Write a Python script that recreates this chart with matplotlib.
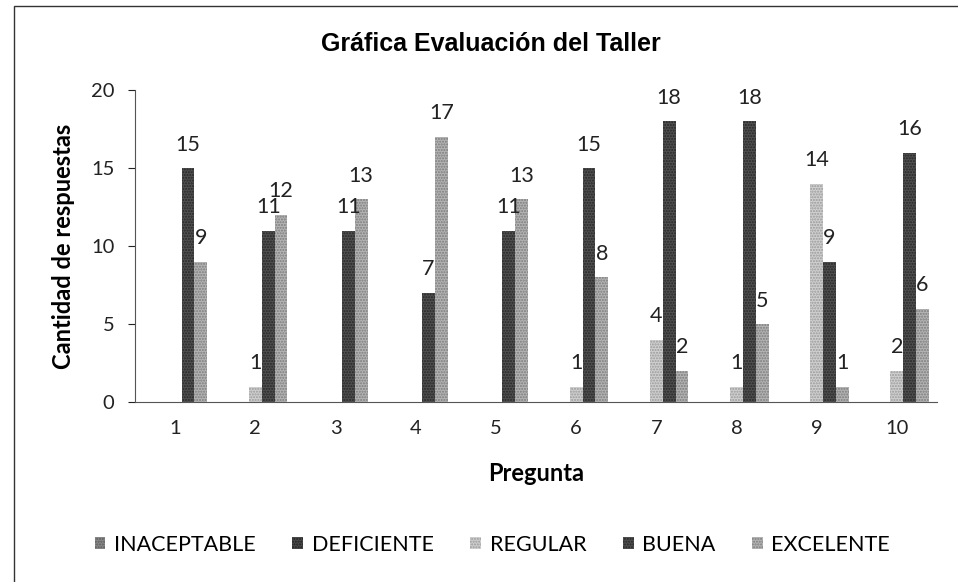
import numpy as np
import matplotlib.pyplot as plt
from matplotlib.patches import Rectangle

plt.rcParams['font.family'] = ['Lato', 'DejaVu Sans']

preguntas = ['1', '2', '3', '4', '5', '6', '7', '8', '9', '10']
series = ['INACEPTABLE', 'DEFICIENTE', 'REGULAR', 'BUENA', 'EXCELENTE']

nan = np.nan
inaceptable = [nan] * 10
deficiente = [nan] * 10
regular = [nan, 1, nan, nan, nan, 1, 4, 1, 14, 2]
buena = [15, 11, 11, 7, 11, 15, 18, 18, 9, 16]
excelente = [9, 12, 13, 17, 13, 8, 2, 5, 1, 6]

valores = [inaceptable, deficiente, regular, buena, excelente]
colores = ['#8a8a8a', '#4a4a4a', '#cfcfcf', '#505050', '#b4b4b4']
tramas = ['#5a5a5a', '#222222', '#9a9a9a', '#262626', '#7c7c7c']

fig = plt.figure(figsize=(9.58, 5.82), dpi=100)
ax = fig.add_axes([0.141, 0.309, 0.837, 0.536])

# marco del grafico
fig.patches.append(Rectangle((14 / 958, -0.05), 1.1, 1 - 6 / 582 + 0.05,
                             transform=fig.transFigure, fill=False,
                             edgecolor='#333333', linewidth=1.0))

x = np.arange(1, len(preguntas) + 1)
ancho = 0.16
for i, (nombre, vals) in enumerate(zip(series, valores)):
    pos = x + (i - 2) * ancho
    ax.bar(pos, vals, width=ancho, color=colores[i], edgecolor=tramas[i],
           linewidth=0, hatch='......', label=nombre)
    for p, v in zip(pos, vals):
        if not np.isnan(v):
            ax.annotate(f'{int(v)}', (p, v), xytext=(0, 17), textcoords='offset points',
                        ha='center', va='center', fontsize=15.5, color='#222222')

ax.set_xlim(0.5, 10.5)
ax.set_ylim(0, 20)
ax.set_yticks([0, 5, 10, 15, 20])
ax.set_xticks(x)
ax.set_xticklabels(preguntas)
ax.tick_params(axis='x', length=0, pad=13, labelsize=14.5, colors='#222222')
ax.tick_params(axis='y', length=5, width=0.8, pad=10, labelsize=14.5, colors='#222222',
               direction='out')
for s in ['top', 'right']:
    ax.spines[s].set_visible(False)
ax.spines['left'].set_color('#555555')
ax.spines['bottom'].set_color('#555555')

ax.set_ylabel('Cantidad de respuestas', fontsize=17, fontweight='bold', labelpad=11)
ax.set_xlabel('Pregunta', fontsize=17, fontweight='bold', labelpad=18)
fig.text(0.512, 1 - 44 / 582, 'Gráfica Evaluación del Taller', ha='center', va='center',
         fontsize=18, fontweight='bold', family=['Liberation Sans', 'DejaVu Sans'])

fig.legend(loc='center', bbox_to_anchor=(0.514, 1 - 545 / 582), ncol=5, frameon=False,
           fontsize=15.5, handlelength=0.5, handleheight=0.5, handletextpad=0.4,
           columnspacing=1.7)

fig.savefig('out.png', dpi=100)
